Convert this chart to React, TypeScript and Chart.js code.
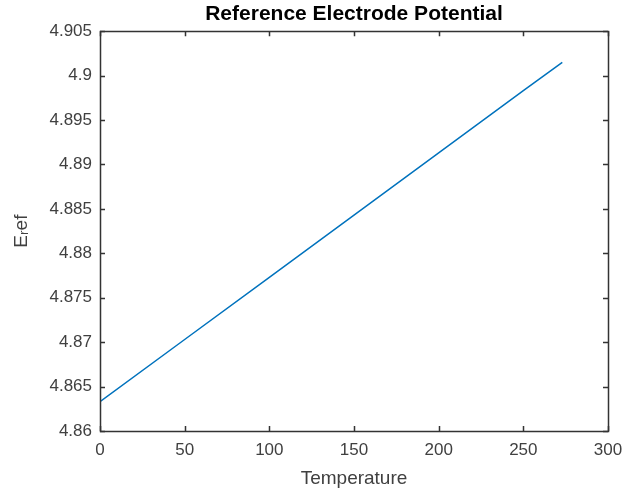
import React, { useEffect, useRef } from "react";
import { Chart, registerables } from "chart.js";

Chart.register(...registerables);

const temperature = [0, 50, 100, 150, 200, 250, 273];
const eRef = [4.8633, 4.8703, 4.8773, 4.8843, 4.8913, 4.8983, 4.9015];
const xMin = 0, xMax = 300, xStep = 50;
const yMin = 4.86, yMax = 4.905, yStep = 0.005;

const AXIS = "#333333";
const TEXT = "#404040";
const FONT = "'Liberation Sans', Arial, sans-serif";

const boxPlugin = {
  id: "boxTicks",
  afterDraw(chart: any) {
    const { ctx, chartArea: a, scales } = chart;
    const L = 5;
    ctx.save();
    ctx.strokeStyle = AXIS;
    ctx.lineWidth = 1.5;
    ctx.beginPath();
    scales.x.ticks.forEach((t: any) => {
      const px = Math.round(scales.x.getPixelForValue(t.value)) + 0.5;
      ctx.moveTo(px, a.bottom);
      ctx.lineTo(px, a.bottom - L);
      ctx.moveTo(px, a.top);
      ctx.lineTo(px, a.top + L);
    });
    scales.y.ticks.forEach((t: any) => {
      const py = Math.round(scales.y.getPixelForValue(t.value)) + 0.5;
      ctx.moveTo(a.left, py);
      ctx.lineTo(a.left + L, py);
      ctx.moveTo(a.right, py);
      ctx.lineTo(a.right - L, py);
    });
    ctx.stroke();
    ctx.strokeRect(Math.round(a.left) + 0.5, Math.round(a.top) + 0.5, Math.round(a.right - a.left), Math.round(a.bottom - a.top));
    ctx.restore();
  },
};

export default function App() {
  const ref = useRef<HTMLCanvasElement>(null);
  useEffect(() => {
    document.body.style.margin = "0";
    const data = temperature.map((t, i) => ({ x: t, y: eRef[i] }));
    const chart = new Chart(ref.current!, {
      type: "scatter",
      data: {
        datasets: [
          {
            data,
            showLine: true,
            borderColor: "rgb(0,114,189)",
            borderWidth: 1.5,
            pointRadius: 0,
            fill: false,
          },
        ],
      },
      options: {
        animation: false,
        responsive: false,
        layout: { padding: { left: 0, right: 19, top: 0, bottom: 0 } },
        plugins: {
          legend: { display: false },
          tooltip: { enabled: false },
          title: {
            display: true,
            text: "Reference Electrode Potential",
            color: "#000",
            fullSize: false,
            font: { family: FONT, size: 21, weight: "bold" },
            padding: { top: 2, bottom: 4 },
          },
        },
        scales: {
          x: {
            type: "linear",
            min: xMin,
            max: xMax,
            grid: { display: false, drawTicks: false },
            border: { display: false },
            ticks: {
              stepSize: xStep,
              color: TEXT,
              font: { family: FONT, size: 17 },
              padding: 9,
              maxRotation: 0,
            },
            title: {
              display: true,
              text: "Temperature",
              color: TEXT,
              font: { family: FONT, size: 19 },
              padding: { top: 0, bottom: 4 },
            },
            afterFit(s: any) {
              s.height = 63;
              s.paddingLeft = 0;
              s.paddingRight = 0;
            },
          },
          y: {
            type: "linear",
            min: yMin,
            max: yMax,
            grid: { display: false, drawTicks: false },
            border: { display: false },
            ticks: {
              stepSize: yStep,
              color: TEXT,
              font: { family: FONT, size: 17 },
              padding: 8,
              callback: (v: any) => String(Number(Number(v).toFixed(3))),
            },
            title: {
              display: true,
              text: "Eᵣef",
              color: TEXT,
              font: { family: FONT, size: 19 },
              padding: { top: 10, bottom: 0 },
            },
            afterFit(s: any) {
              s.width = 100;
              s.paddingTop = 0;
              s.paddingBottom = 0;
            },
          },
        },
      },
      plugins: [boxPlugin],
    });
    return () => chart.destroy();
  }, []);
  return (
    <div style={{ width: 627, height: 494, background: "#fff" }}>
      <canvas ref={ref} width={627} height={494} />
    </div>
  );
}
